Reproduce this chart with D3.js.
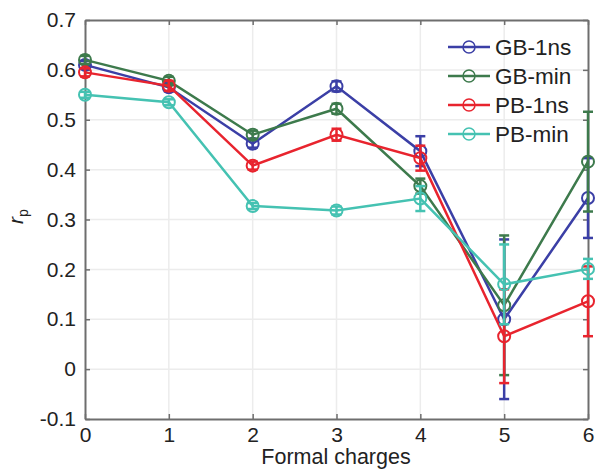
<!DOCTYPE html>
<html>
<head>
<meta charset="utf-8">
<script src="https://cdn.jsdelivr.net/npm/d3@7"></script>
<style>
  body { margin: 0; background: #fff; }
  text { font-family: "Liberation Sans", Arial, sans-serif; fill: #222; }
</style>
</head>
<body>
<div id="chart"></div>
<script>
// ===================== DATA =====================
const charges = [0, 1, 2, 3, 4, 5, 6];
const yTicks = [-0.1, 0, 0.1, 0.2, 0.3, 0.4, 0.5, 0.6, 0.7];

const gb1ns  = [0.610, 0.565, 0.452, 0.567, 0.437, 0.100, 0.343];
const gbmin  = [0.620, 0.578, 0.470, 0.522, 0.367, 0.128, 0.416];
const pb1ns  = [0.595, 0.568, 0.408, 0.470, 0.423, 0.066, 0.136];
const pbmin  = [0.550, 0.535, 0.327, 0.318, 0.342, 0.170, 0.201];

const gb1nsErr = [0.008, 0.008, 0.008, 0.010, 0.030, 0.160, 0.080];
const gbminErr = [0.008, 0.008, 0.008, 0.010, 0.015, 0.140, 0.100];
const pb1nsErr = [0.008, 0.010, 0.008, 0.012, 0.025, 0.094, 0.070];
const pbminErr = [0.006, 0.006, 0.006, 0.008, 0.025, 0.080, 0.020];

const seriesNames = ["GB-1ns", "GB-min", "PB-1ns", "PB-min"];
const seriesColors = ["#3b3fa6", "#3d7a4c", "#e8242e", "#45c2b2"];

const series = [
  { name: seriesNames[0], color: seriesColors[0], values: gb1ns, err: gb1nsErr },
  { name: seriesNames[1], color: seriesColors[1], values: gbmin, err: gbminErr },
  { name: seriesNames[2], color: seriesColors[2], values: pb1ns, err: pb1nsErr },
  { name: seriesNames[3], color: seriesColors[3], values: pbmin, err: pbminErr }
];

// ===================== CHART =====================
const width = 596, height = 470;
const m = { left: 85, right: 588, top: 20, bottom: 419 };

const svg = d3.select("#chart").append("svg")
  .attr("width", width)
  .attr("height", height);

const x = d3.scaleLinear().domain([0, 6]).range([m.left, m.right]);
const y = d3.scaleLinear().domain([-0.1, 0.7]).range([m.bottom, m.top]);

// grid
svg.append("g").selectAll("line")
  .data(charges.slice(1, -1))
  .enter().append("line")
  .attr("x1", d => x(d)).attr("x2", d => x(d))
  .attr("y1", m.top).attr("y2", m.bottom)
  .attr("stroke", "#ececec").attr("stroke-width", 1.5);

svg.append("g").selectAll("line")
  .data(yTicks.slice(1, -1))
  .enter().append("line")
  .attr("y1", d => y(d)).attr("y2", d => y(d))
  .attr("x1", m.left).attr("x2", m.right)
  .attr("stroke", "#ececec").attr("stroke-width", 1.5);

// inward ticks on all sides
const tickLen = 5;
const axisColor = "#6e6e6e";
const yFmt = d => d === 0 ? "0" : d.toFixed(1);
const bottomAxis = d3.axisBottom(x).tickValues(charges).tickSizeInner(-tickLen).tickSizeOuter(0)
  .tickPadding(12).tickFormat(d3.format("d"));
const topAxis = d3.axisTop(x).tickValues(charges).tickSizeInner(-tickLen).tickSizeOuter(0).tickFormat("");
const leftAxis = d3.axisLeft(y).tickValues(yTicks).tickSizeInner(-tickLen).tickSizeOuter(0).tickPadding(9)
  .tickFormat(yFmt);
const rightAxis = d3.axisRight(y).tickValues(yTicks).tickSizeInner(-tickLen).tickSizeOuter(0).tickFormat("");

function styleAxis(g) {
  g.select(".domain").attr("stroke", axisColor).attr("stroke-width", 2);
  g.selectAll(".tick line").attr("stroke", axisColor).attr("stroke-width", 1.5);
  g.selectAll(".tick text")
    .attr("font-size", 21)
    .attr("fill", "#222")
    .style("font-family", "'Liberation Sans', Arial, sans-serif");
}

svg.append("g").attr("transform", `translate(0,${m.bottom})`).call(bottomAxis).call(styleAxis)
  .selectAll(".tick text").attr("dy", "0.5em");
svg.append("g").attr("transform", `translate(0,${m.top})`).call(topAxis).call(styleAxis);
svg.append("g").attr("transform", `translate(${m.left},0)`).call(leftAxis).call(styleAxis);
svg.append("g").attr("transform", `translate(${m.right},0)`).call(rightAxis).call(styleAxis);

// series
const line = d3.line().x((d, i) => x(charges[i])).y(d => y(d));
const capW = 5;

series.forEach(s => {
  const g = svg.append("g");
  // error bars
  const eb = g.selectAll("g.eb")
    .data(s.values.map((v, i) => ({ v, e: s.err[i], c: charges[i] })))
    .enter().append("g");
  eb.append("line")
    .attr("x1", d => x(d.c)).attr("x2", d => x(d.c))
    .attr("y1", d => y(d.v - d.e)).attr("y2", d => y(d.v + d.e))
    .attr("stroke", s.color).attr("stroke-width", 2.5);
  [-1, 1].forEach(sign => {
    eb.append("line")
      .attr("x1", d => x(d.c) - capW).attr("x2", d => x(d.c) + capW)
      .attr("y1", d => y(d.v + sign * d.e)).attr("y2", d => y(d.v + sign * d.e))
      .attr("stroke", s.color).attr("stroke-width", 2.5);
  });
  g.append("path")
    .datum(s.values)
    .attr("d", line)
    .attr("fill", "none")
    .attr("stroke", s.color)
    .attr("stroke-width", 2.5);
  g.selectAll("circle")
    .data(s.values)
    .enter().append("circle")
    .attr("cx", (d, i) => x(charges[i]))
    .attr("cy", d => y(d))
    .attr("r", 6)
    .attr("fill", "none")
    .attr("stroke", s.color)
    .attr("stroke-width", 2);
});

// legend
const legend = svg.append("g").attr("transform", "translate(448,47)");
series.forEach((s, i) => {
  const row = legend.append("g").attr("transform", `translate(0,${i * 29})`);
  row.append("line").attr("x1", 0).attr("x2", 42).attr("y1", 0).attr("y2", 0)
    .attr("stroke", s.color).attr("stroke-width", 2.5);
  row.append("circle").attr("cx", 21).attr("cy", 0).attr("r", 6)
    .attr("fill", "none").attr("stroke", s.color).attr("stroke-width", 1.5);
  row.append("text").attr("x", 47).attr("y", 0).attr("dy", "0.36em")
    .attr("font-size", 22.5).text(s.name);
});

// axis labels
svg.append("text")
  .attr("x", 336).attr("y", 464)
  .attr("text-anchor", "middle")
  .attr("font-size", 21.5)
  .text("Formal charges");

const yl = svg.append("text")
  .attr("transform", "translate(23,224) rotate(-90)")
  .attr("font-size", 21);
yl.append("tspan").attr("font-style", "italic").text("r");
yl.append("tspan").attr("font-size", 14).attr("dy", 5).text("p");
</script>
</body>
</html>
